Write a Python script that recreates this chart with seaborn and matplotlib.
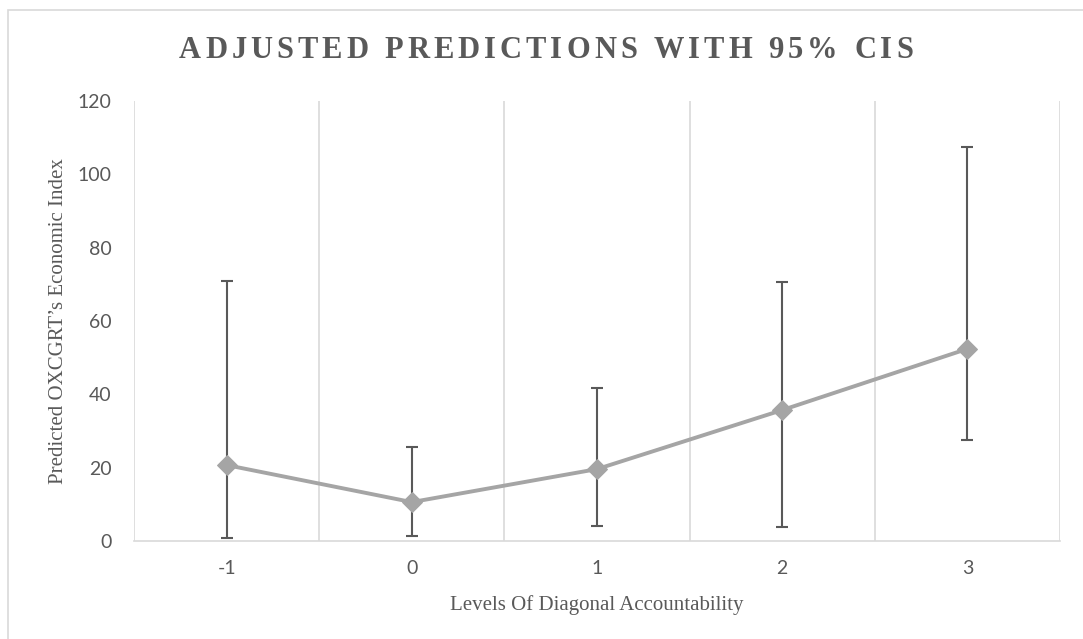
import seaborn as sns
import matplotlib.pyplot as plt
import matplotlib.patches as mpatches
import numpy as np
import pandas as pd

# data
levels = [-1, 0, 1, 2, 3]
level_labels = ["-1", "0", "1", "2", "3"]
predicted = [20.7, 10.6, 19.6, 35.7, 52.4]
ci_low = [0.8, 1.4, 4.1, 3.8, 27.5]
ci_high = [70.9, 25.6, 41.7, 70.6, 107.5]

title = "ADJUSTED PREDICTIONS WITH 95% CIS"

df = pd.DataFrame({"level": levels, "pred": predicted})

sns.set_style("white")
plt.rcParams['font.family'] = ['Lato', 'DejaVu Sans']

fig = plt.figure(figsize=(10.83, 6.39), dpi=100)
ax = fig.add_axes([0.1237, 0.1534, 0.8551, 0.6886])

# outer chart border like the spreadsheet frame
fig.patches.append(mpatches.Rectangle((0.0075, -0.01), 1.0, 0.995, transform=fig.transFigure,
                                      fill=False, edgecolor="#d9d9d9", linewidth=1.2))

# confidence intervals
pred = np.array(predicted)
yerr = np.vstack([pred - np.array(ci_low), np.array(ci_high) - pred])
ax.errorbar(levels, predicted, yerr=yerr, fmt="none", ecolor="#595959",
            elinewidth=1.5, capsize=4.5, capthick=1.5, zorder=2)

# main line with diamond markers
sns.lineplot(data=df, x="level", y="pred", ax=ax, color="#a5a5a5", linewidth=2.8,
             marker="D", markersize=10, markeredgecolor="#a5a5a5", zorder=3)

ax.set_xlim(-1.5, 3.5)
ax.set_ylim(0, 120)
ax.set_yticks(np.arange(0, 121, 20))
ax.set_xticks(levels)
ax.set_xticklabels(level_labels)

# vertical gridlines between categories
ax.set_xticks(np.arange(-1.5, 3.6, 1), minor=True)
ax.grid(which="minor", axis="x", color="#d9d9d9", linewidth=1.2)
ax.grid(which="major", axis="both", visible=False)
ax.tick_params(which="both", length=0)
ax.tick_params(axis="both", labelsize=14, labelcolor="#595959")
ax.tick_params(axis="x", pad=14)
ax.tick_params(axis="y", pad=16)

for s in ["top", "right", "left"]:
    ax.spines[s].set_visible(False)
ax.spines["bottom"].set_color("#d9d9d9")
ax.spines["bottom"].set_linewidth(1.2)

ax.set_xlabel("Levels Of Diagonal Accountability", family="Liberation Serif",
              fontsize=15, color="#595959", labelpad=13)
ax.set_ylabel("Predicted OXCGRT\u2019s Economic Index", family="Liberation Serif",
              fontsize=15, color="#595959", labelpad=7)

# title with letter spacing, placed one character at a time
renderer = fig.canvas.get_renderer()
spacing = 4.0
title_kw = dict(family="Liberation Serif", fontsize=22, fontweight="bold", color="#595959",
                va="center", ha="left")
widths = []
for ch in title:
    t = fig.text(0, 0, ch.replace(" ", "n"), **title_kw)
    w = t.get_window_extent(renderer).width
    if ch == " ":
        w *= 0.5
    widths.append(w)
    t.remove()
total = sum(widths) + spacing * (len(title) - 1)
x = 546 - total / 2
for ch, w in zip(title, widths):
    if ch != " ":
        fig.text(x / 1083, 0.921, ch, **title_kw)
    x += w + spacing

plt.savefig("out.png", dpi=100)
